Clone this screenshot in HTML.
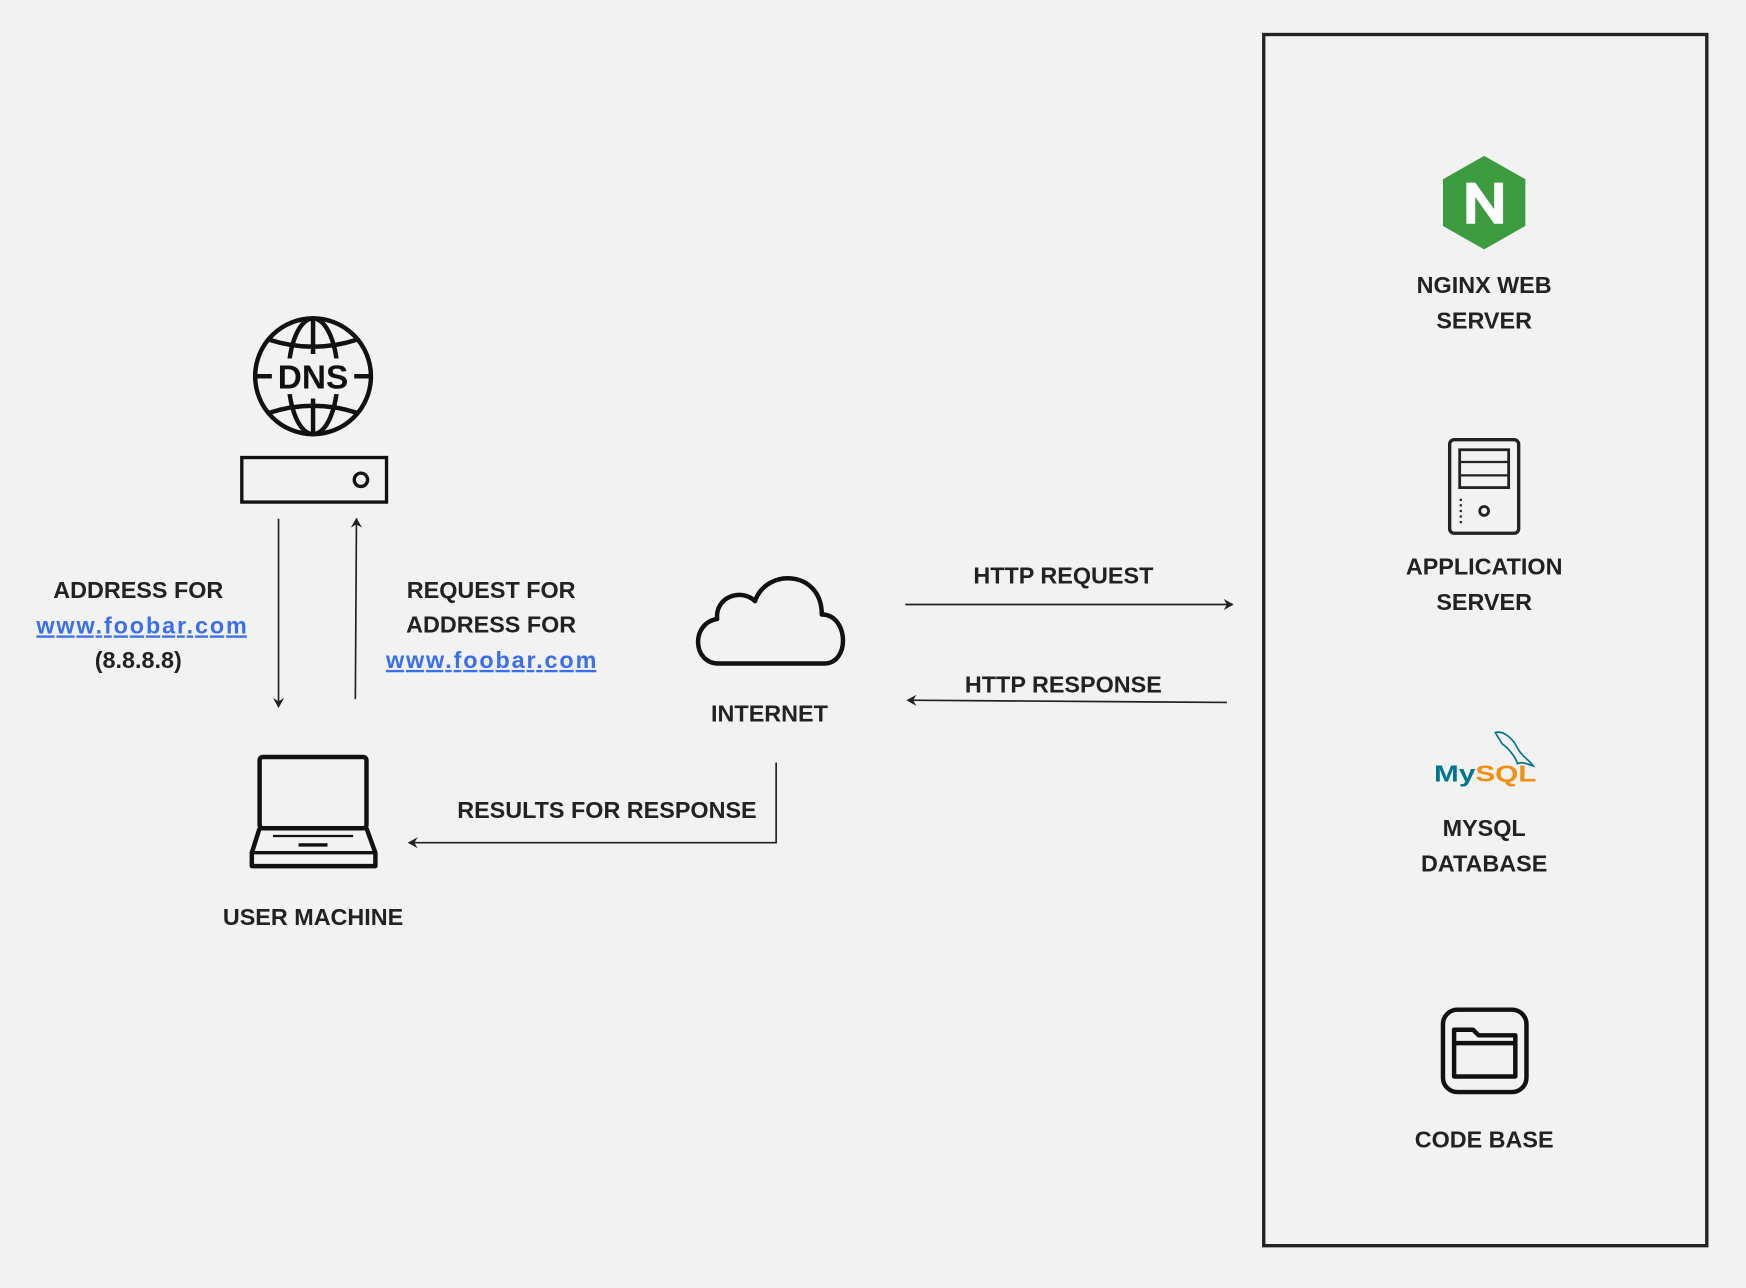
<!DOCTYPE html>
<html><head><meta charset="utf-8"><style>
html,body{margin:0;padding:0;background:#f2f2f2;}
svg{display:block;}
text{font-family:"Liberation Sans",sans-serif;font-weight:bold;font-size:21px;fill:#222;text-anchor:middle;}
.l{fill:#3a6ff0;text-decoration:underline;}
</style></head><body>
<svg width="1746" height="1288" viewBox="0 0 1568 1157" xmlns="http://www.w3.org/2000/svg">
<defs><marker id="a" markerWidth="10" markerHeight="10" refX="8" refY="5" orient="auto" markerUnits="userSpaceOnUse"><path d="M0,0 L9,5 L0,10 L3,5 Z" fill="#222"/></marker></defs>
<rect width="1568" height="1157" fill="#f2f2f2"/>
<rect x="1135" y="31" width="398" height="1088" fill="none" stroke="#222" stroke-width="3"/>
<!-- nginx -->
<polygon points="1333,140 1370,161 1370,203 1333,224 1296,203 1296,161" fill="#3d9b3f"/>
<path d="M1317,201 V164 h8 l17,24 V164 h8 v37 h-8 l-17,-24 v24 z" fill="#fff"/>
<text x="1333" y="263">NGINX WEB</text><text x="1333" y="295">SERVER</text>
<!-- app server -->
<rect x="1302" y="395" width="62" height="84" rx="4" fill="none" stroke="#222" stroke-width="3"/>
<rect x="1311" y="404" width="44" height="34" fill="none" stroke="#222" stroke-width="2.5"/>
<line x1="1311" y1="415" x2="1355" y2="415" stroke="#222" stroke-width="2"/>
<line x1="1311" y1="427" x2="1355" y2="427" stroke="#222" stroke-width="2"/>
<circle cx="1333" cy="459" r="4" fill="none" stroke="#222" stroke-width="2.5"/>
<line x1="1312" y1="448" x2="1312" y2="472" stroke="#222" stroke-width="2" stroke-dasharray="2,3"/>
<text x="1333" y="516">APPLICATION</text><text x="1333" y="548">SERVER</text>
<!-- mysql -->
<text x="1334" y="702" style="font-size:21px" textLength="92" lengthAdjust="spacingAndGlyphs"><tspan style="fill:#00758f">My</tspan><tspan style="fill:#f29111">SQL</tspan></text>
<path d="M1343,658 c8,-2 16,6 20,14 c4,8 10,10 14,16 c-6,-2 -10,-4 -14,-2 c-2,-6 -8,-14 -14,-18 c-2,-4 -4,-6 -6,-10z" fill="none" stroke="#00758f" stroke-width="1.5"/>
<text x="1333" y="751">MYSQL</text><text x="1333" y="783">DATABASE</text>
<!-- code base -->
<rect x="1296" y="907" width="75" height="74" rx="13" fill="none" stroke="#111" stroke-width="4"/>
<path d="M1306,967 V925 h17 l5,5 h33 v37 z" fill="none" stroke="#111" stroke-width="4" stroke-linejoin="round"/>
<line x1="1306" y1="937" x2="1361" y2="937" stroke="#111" stroke-width="4"/>
<text x="1333" y="1031">CODE BASE</text>
<!-- DNS -->
<g fill="none" stroke="#111" stroke-width="4">
<circle cx="281" cy="338" r="52"/>
<ellipse cx="281" cy="338" rx="22" ry="52"/>
<line x1="281" y1="286" x2="281" y2="318"/><line x1="281" y1="358" x2="281" y2="390"/>
<path d="M241,305 Q281,318 321,305"/><path d="M241,371 Q281,358 321,371"/>
</g>
<rect x="244" y="322" width="74" height="32" fill="#f2f2f2"/>
<line x1="229" y1="338" x2="244" y2="338" stroke="#111" stroke-width="4"/><line x1="318" y1="338" x2="333" y2="338" stroke="#111" stroke-width="4"/>
<text x="281" y="349" style="font-size:30px;fill:#111">DNS</text>
<rect x="217" y="411" width="130" height="40" fill="none" stroke="#111" stroke-width="3"/>
<circle cx="324" cy="431" r="6" fill="none" stroke="#111" stroke-width="3"/>
<!-- DNS arrows -->
<line x1="250" y1="466" x2="250" y2="635" stroke="#222" stroke-width="1.5" marker-end="url(#a)"/>
<line x1="319" y1="628" x2="320" y2="466" stroke="#222" stroke-width="1.5" marker-end="url(#a)"/>
<text x="124" y="537">ADDRESS FOR</text>
<text x="127" y="569" class="l" textLength="189">www.foobar.com</text>
<text x="124" y="600">(8.8.8.8)</text>
<text x="441" y="537">REQUEST FOR</text>
<text x="441" y="568">ADDRESS FOR</text>
<text x="441" y="600" class="l" textLength="189">www.foobar.com</text>
<!-- cloud -->
<path d="M645,596 C622,596 620,560 644,556 C642,536 666,528 678,540 C688,510 738,512 738,552 C762,552 764,596 740,596 Z" fill="none" stroke="#111" stroke-width="4" stroke-linejoin="round"/>
<text x="691" y="648">INTERNET</text>
<!-- http -->
<text x="955" y="524">HTTP REQUEST</text>
<line x1="813" y1="543" x2="1107" y2="543" stroke="#222" stroke-width="1.5" marker-end="url(#a)"/>
<text x="955" y="622">HTTP RESPONSE</text>
<line x1="1102" y1="631" x2="815" y2="629" stroke="#222" stroke-width="1.5" marker-end="url(#a)"/>
<!-- results -->
<polyline points="697,685 697,757 367,757" fill="none" stroke="#222" stroke-width="1.5" marker-end="url(#a)"/>
<text x="545" y="735">RESULTS FOR RESPONSE</text>
<!-- laptop -->
<rect x="233" y="680" width="96" height="64" rx="3" fill="none" stroke="#111" stroke-width="4"/>
<path d="M233,744 L226,766 V778 H337 V766 L329,744" fill="none" stroke="#111" stroke-width="4" stroke-linejoin="round"/>
<line x1="226" y1="766" x2="337" y2="766" stroke="#111" stroke-width="3"/>
<line x1="268" y1="759" x2="294" y2="759" stroke="#111" stroke-width="3"/>
<line x1="245" y1="751" x2="317" y2="751" stroke="#111" stroke-width="2"/>
<text x="281" y="831">USER MACHINE</text>
</svg>
</body></html>
